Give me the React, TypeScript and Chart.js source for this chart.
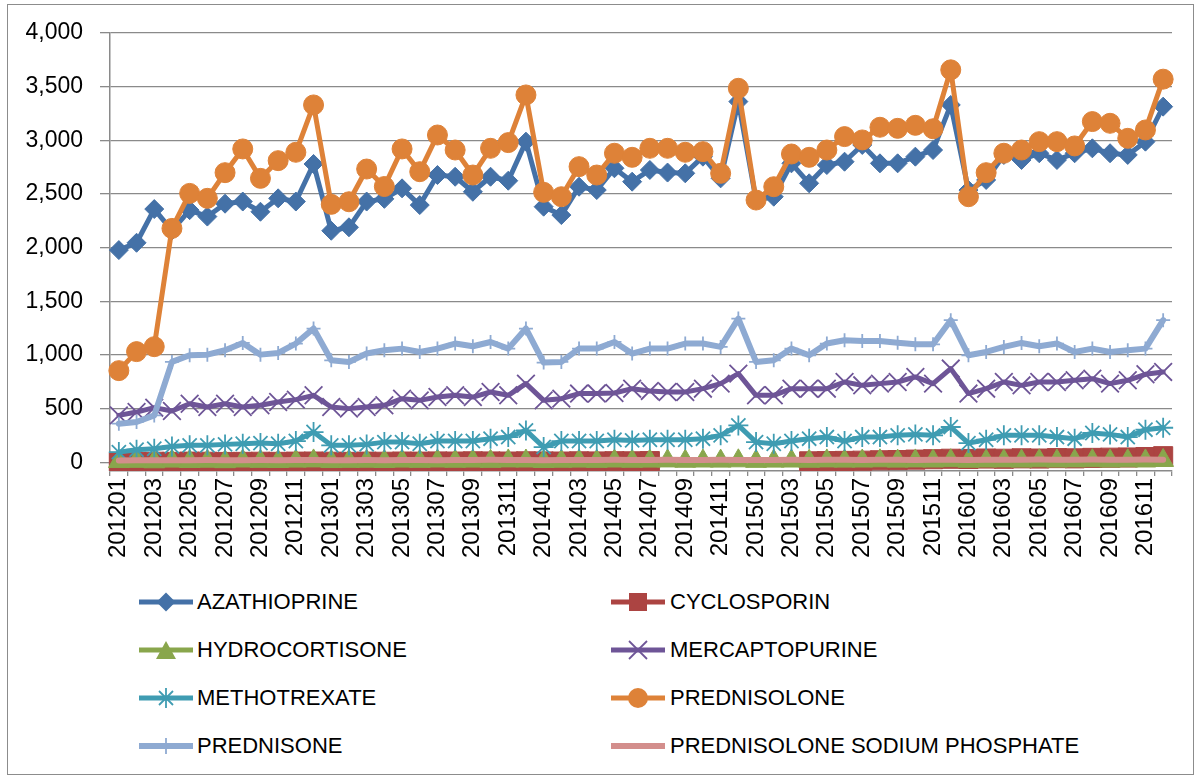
import React, { useEffect, useRef } from 'react';
import { Chart, registerables } from 'chart.js';

Chart.register(...registerables);

const months: string[] = [
  '201201', '201202', '201203', '201204', '201205', '201206', '201207', '201208', '201209', '201210', '201211', '201212',
  '201301', '201302', '201303', '201304', '201305', '201306', '201307', '201308', '201309', '201310', '201311', '201312',
  '201401', '201402', '201403', '201404', '201405', '201406', '201407', '201408', '201409', '201410', '201411', '201412',
  '201501', '201502', '201503', '201504', '201505', '201506', '201507', '201508', '201509', '201510', '201511', '201512',
  '201601', '201602', '201603', '201604', '201605', '201606', '201607', '201608', '201609', '201610', '201611', '201612',
];

const yTickValues: number[] = [0, 500, 1000, 1500, 2000, 2500, 3000, 3500, 4000];

const azathioprine: number[] = [
  1978, 2046, 2360, 2160, 2350, 2290, 2410, 2430, 2335, 2460, 2430, 2780,
  2158, 2190, 2430, 2455, 2553, 2397, 2677, 2661, 2521, 2661, 2624, 2988,
  2382, 2304, 2568, 2537, 2740, 2615, 2724, 2700, 2693, 2848, 2646, 3361,
  2444, 2475, 2786, 2600, 2770, 2801, 2957, 2786, 2786, 2848, 2910, 3330,
  2537, 2631, 2864, 2817, 2880, 2817, 2880, 2926, 2880, 2864, 2988, 3314,
];

const cyclosporin: (number | null)[] = [
  5, 4, 6, 5, 7, 6, 4, 5, 6, 5, 7, 8,
  6, 5, 7, 6, 8, 7, 9, 8, 10, 9, 8, 10,
  9, 8, 10, 9, 11, 10, 12, null, null, null, null, null,
  null, null, null, 10, 12, 14, 16, 20, 22, 26, 30, 34,
  32, 36, 34, 38, 36, 40, 38, 42, 44, 46, 50, 58,
];

const hydrocortisone: number[] = [
  8, 10, 6, 12, 9, 11, 7, 13, 10, 9, 12, 14,
  8, 10, 11, 9, 12, 10, 13, 11, 12, 10, 14, 13,
  9, 11, 12, 10, 13, 11, 12, 14, 11, 13, 12, 15,
  10, 12, 13, 11, 14, 12, 13, 15, 12, 14, 13, 16,
  11, 13, 14, 12, 15, 13, 14, 16, 13, 15, 14, 18,
];

const mercaptopurine: number[] = [
  438, 469, 510, 479, 547, 516, 547, 516, 532, 563, 585, 625,
  516, 501, 516, 532, 594, 578, 609, 625, 609, 656, 625, 734,
  578, 594, 641, 641, 647, 687, 666, 656, 656, 687, 734, 827,
  625, 625, 687, 687, 687, 749, 718, 734, 749, 796, 734, 874,
  641, 687, 749, 718, 749, 749, 765, 780, 734, 765, 821, 843,
];

const methotrexate: number[] = [
  96, 118, 127, 149, 159, 159, 168, 174, 180, 174, 199, 283,
  159, 159, 168, 189, 189, 174, 199, 199, 199, 221, 236, 298,
  143, 199, 199, 199, 211, 205, 211, 211, 211, 221, 252, 345,
  189, 174, 199, 221, 236, 199, 236, 236, 252, 261, 252, 330,
  180, 211, 252, 252, 252, 236, 221, 274, 261, 236, 305, 323,
];

const prednisolone: number[] = [
  855, 1032, 1078, 2180, 2506, 2460, 2699, 2920, 2646, 2811, 2889, 3330,
  2404, 2428, 2733, 2570, 2920, 2708, 3050, 2910, 2677, 2926, 2979, 3423,
  2516, 2475, 2755, 2677, 2880, 2842, 2926, 2926, 2889, 2895, 2693, 3485,
  2444, 2568, 2873, 2842, 2910, 3035, 3004, 3122, 3112, 3140, 3108, 3657,
  2475, 2699, 2880, 2910, 2988, 2988, 2948, 3175, 3159, 3019, 3097, 3570,
];

const prednisone: number[] = [
  361, 376, 438, 936, 998, 1004, 1045, 1113, 1004, 1020, 1107, 1247,
  951, 936, 1014, 1045, 1060, 1029, 1060, 1107, 1082, 1122, 1060, 1247,
  930, 936, 1060, 1060, 1122, 1014, 1060, 1060, 1107, 1107, 1076, 1340,
  936, 951, 1060, 998, 1107, 1138, 1130, 1130, 1115, 1100, 1100, 1325,
  998, 1029, 1076, 1113, 1082, 1107, 1029, 1060, 1029, 1045, 1060, 1325,
];

const prednisoloneSodiumPhosphate: number[] = [
  18, 20, 19, 21, 20, 22, 21, 20, 22, 21, 23, 22,
  20, 21, 22, 21, 23, 22, 21, 23, 22, 24, 23, 22,
  21, 22, 23, 22, 24, 23, 22, 24, 23, 22, 24, 23,
  22, 23, 24, 23, 25, 24, 23, 25, 24, 23, 25, 24,
  23, 24, 25, 24, 26, 25, 24, 26, 25, 24, 26, 25,
];

const FONT = '"Liberation Sans", Arial, sans-serif';
const GRID = '#8a8a8a';
const CANVAS_W = 1200;
const CANVAS_H = 575;

type Kind = 'diamond' | 'square' | 'triangle' | 'x' | 'star' | 'circle' | 'plus' | 'none';

interface SeriesDef {
  label: string;
  data: (number | null)[];
  color: string;
  kind: Kind;
}

const series: SeriesDef[] = [
  { label: 'AZATHIOPRINE', data: azathioprine, color: '#4471a7', kind: 'diamond' },
  { label: 'CYCLOSPORIN', data: cyclosporin, color: '#ac4442', kind: 'square' },
  { label: 'HYDROCORTISONE', data: hydrocortisone, color: '#89a64c', kind: 'triangle' },
  { label: 'MERCAPTOPURINE', data: mercaptopurine, color: '#6e5597', kind: 'x' },
  { label: 'METHOTREXATE', data: methotrexate, color: '#3f9cb2', kind: 'star' },
  { label: 'PREDNISOLONE', data: prednisolone, color: '#de8238', kind: 'circle' },
  { label: 'PREDNISONE', data: prednisone, color: '#8eaad2', kind: 'plus' },
  { label: 'PREDNISOLONE SODIUM PHOSPHATE', data: prednisoloneSodiumPhosphate, color: '#d38e8c', kind: 'none' },
];

function pointProps(kind: Kind) {
  switch (kind) {
    case 'diamond': return { pointStyle: 'rectRot', pointRadius: 9.5, pointBorderWidth: 1 };
    case 'square': return { pointStyle: 'rect', pointRadius: 13.5, pointBorderWidth: 1 };
    case 'triangle': return { pointStyle: 'triangle', pointRadius: 12, pointBorderWidth: 1 };
    case 'x': return { pointStyle: 'crossRot', pointRadius: 12.5, pointBorderWidth: 1.8 };
    case 'star': return { pointStyle: 'star', pointRadius: 10, pointBorderWidth: 1.8 };
    case 'circle': return { pointStyle: 'circle', pointRadius: 10, pointBorderWidth: 1 };
    case 'plus': return { pointStyle: 'cross', pointRadius: 7, pointBorderWidth: 1.8 };
    default: return { pointStyle: 'circle', pointRadius: 0, pointBorderWidth: 0 };
  }
}

function LegendIcon({ kind, color }: { kind: Kind; color: string }) {
  const cx = 28;
  const cy = 12;
  let marker: React.ReactNode = null;
  if (kind === 'diamond') marker = <polygon points={`${cx},${cy - 9.5} ${cx + 9.5},${cy} ${cx},${cy + 9.5} ${cx - 9.5},${cy}`} fill={color} />;
  if (kind === 'square') marker = <rect x={cx - 9} y={cy - 9} width={18} height={18} fill={color} />;
  if (kind === 'triangle') marker = <polygon points={`${cx},${cy - 9} ${cx + 10},${cy + 9} ${cx - 10},${cy + 9}`} fill={color} />;
  if (kind === 'x') marker = (
    <g stroke={color} strokeWidth={1.8}>
      <line x1={cx - 9} y1={cy - 9} x2={cx + 9} y2={cy + 9} />
      <line x1={cx + 9} y1={cy - 9} x2={cx - 9} y2={cy + 9} />
    </g>
  );
  if (kind === 'star') marker = (
    <g stroke={color} strokeWidth={1.8}>
      <line x1={cx} y1={cy - 10} x2={cx} y2={cy + 10} />
      <line x1={cx - 7} y1={cy - 7} x2={cx + 7} y2={cy + 7} />
      <line x1={cx + 7} y1={cy - 7} x2={cx - 7} y2={cy + 7} />
    </g>
  );
  if (kind === 'circle') marker = <circle cx={cx} cy={cy} r={10} fill={color} />;
  if (kind === 'plus') marker = (
    <g stroke={color} strokeWidth={1.8}>
      <line x1={cx} y1={cy - 8} x2={cx} y2={cy + 8} />
    </g>
  );
  return (
    <svg width={56} height={24} style={{ display: 'block' }}>
      <line x1={1} y1={cy} x2={55} y2={cy} stroke={color} strokeWidth={kind === 'none' || kind === 'plus' ? 6 : 5} />
      {marker}
    </svg>
  );
}

const legendRows = [602, 650, 698, 746];
const legendCols = [{ icon: 138, text: 197 }, { icon: 610, text: 670 }];

export default function App() {
  const canvasRef = useRef<HTMLCanvasElement | null>(null);

  useEffect(() => {
    const canvas = canvasRef.current;
    if (!canvas) return;
    const datasets = series.map((s, i) => ({
      label: s.label,
      data: s.data,
      borderColor: s.color,
      backgroundColor: s.color,
      pointBackgroundColor: s.color,
      pointBorderColor: s.color,
      borderWidth: s.kind === 'none' || s.kind === 'plus' ? 6 : 5,
      tension: 0,
      spanGaps: false,
      fill: false,
      order: -i,
      ...pointProps(s.kind),
    }));
    const chart = new Chart(canvas, {
      type: 'line',
      data: { labels: months, datasets: datasets as any },
      options: {
        animation: false,
        responsive: false,
        maintainAspectRatio: false,
        layout: { padding: { top: 33, right: 28, left: 0, bottom: 0 } },
        plugins: { legend: { display: false }, tooltip: { enabled: false } },
        elements: { line: { borderJoinStyle: 'round', borderCapStyle: 'round' } },
        scales: {
          x: {
            type: 'category',
            offset: true,
            grid: { offset: true, drawOnChartArea: false, drawTicks: true, tickLength: 5, color: GRID, lineWidth: 1.3 },
            border: { display: true, color: GRID, width: 1.5 },
            ticks: {
              autoSkip: false,
              minRotation: 90,
              maxRotation: 90,
              padding: 2,
              color: '#000',
              font: { family: FONT, size: 24 },
              callback: (_v: any, i: number) => (i % 2 === 0 ? months[i] : ''),
            },
            afterFit: (s: any) => { s.height = CANVAS_H - 471; },
          },
          y: {
            min: -80,
            max: 4000,
            afterBuildTicks: (s: any) => { s.ticks = yTickValues.map((v) => ({ value: v })); },
            ticks: {
              padding: 17,
              color: '#000',
              font: { family: FONT, size: 23 },
              callback: (v: any) => Number(v).toLocaleString('en-US'),
            },
            grid: { color: GRID, lineWidth: 1.3, tickLength: 10, drawTicks: true },
            border: { display: true, color: GRID, width: 1.5 },
            afterFit: (s: any) => { s.width = 110; },
          },
        },
      } as any,
    });
    return () => chart.destroy();
  }, []);

  return (
    <div style={{ position: 'absolute', left: 0, top: 0, width: 1200, height: 780, background: '#fff', overflow: 'hidden' }}>
      <div style={{ position: 'absolute', left: 7, top: 4, width: 1187, height: 771, border: '1.5px solid #8c8c8c', boxSizing: 'border-box' }} />
      <canvas ref={canvasRef} width={CANVAS_W} height={CANVAS_H} style={{ position: 'absolute', left: 0, top: 0, width: CANVAS_W, height: CANVAS_H }} />
      {series.map((s, i) => {
        const row = Math.floor(i / 2);
        const col = legendCols[i % 2];
        const y = legendRows[row];
        return (
          <React.Fragment key={s.label}>
            <div style={{ position: 'absolute', left: col.icon, top: y - 12 }}>
              <LegendIcon kind={s.kind} color={s.color} />
            </div>
            <div style={{ position: 'absolute', left: col.text, top: y - 12, fontFamily: FONT, fontSize: 22, lineHeight: '24px', color: '#000', whiteSpace: 'nowrap' }}>
              {s.label}
            </div>
          </React.Fragment>
        );
      })}
    </div>
  );
}
